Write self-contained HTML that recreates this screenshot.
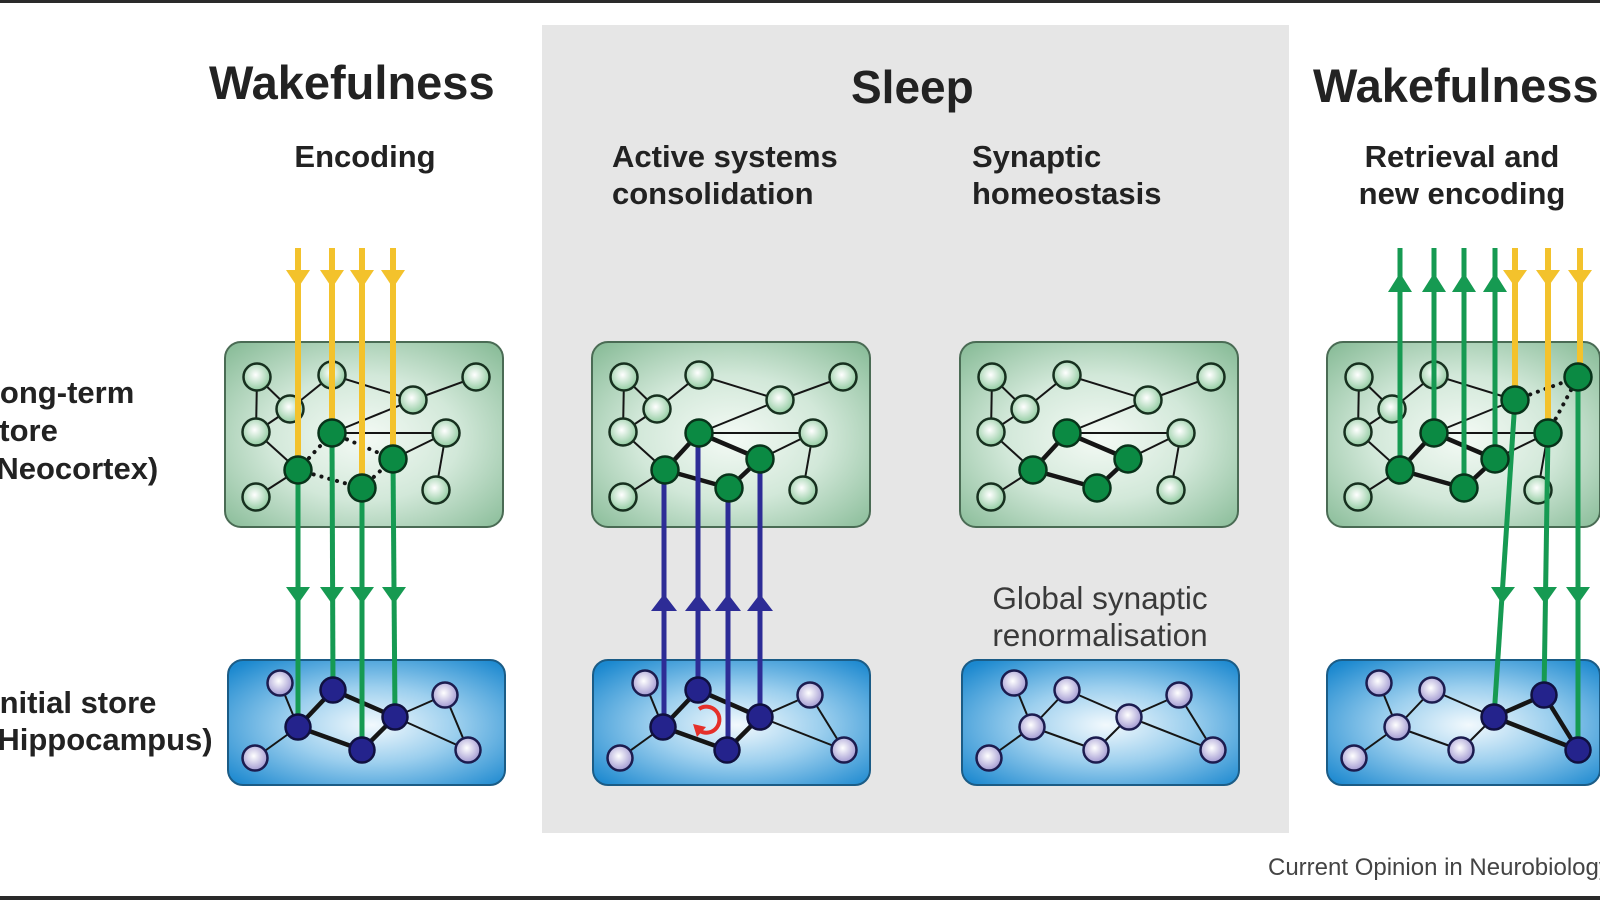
<!DOCTYPE html>
<html>
<head>
<meta charset="utf-8">
<style>
html,body{margin:0;padding:0;background:#fff;}
svg{display:block;}
text{font-family:"Liberation Sans",Arial,sans-serif;}
.b{font-weight:bold;fill:#222;}
.r{fill:#3a3a3a;}
</style>
</head>
<body>
<svg width="1600" height="900" viewBox="0 0 1600 900" xmlns="http://www.w3.org/2000/svg">
<defs>
  <radialGradient id="gb" cx="50%" cy="52%" r="68%">
    <stop offset="0" stop-color="#f4faf5"/>
    <stop offset="0.5" stop-color="#d2e8d9"/>
    <stop offset="1" stop-color="#8cbe9b"/>
  </radialGradient>
  <radialGradient id="bb" cx="52%" cy="52%" r="68%">
    <stop offset="0" stop-color="#f2f9fd"/>
    <stop offset="0.45" stop-color="#9ccfee"/>
    <stop offset="1" stop-color="#1b88cf"/>
  </radialGradient>
  <radialGradient id="ln" cx="45%" cy="42%" r="58%">
    <stop offset="0" stop-color="#ffffff"/>
    <stop offset="1" stop-color="#93cca2"/>
  </radialGradient>
  <radialGradient id="lb" cx="45%" cy="42%" r="58%">
    <stop offset="0" stop-color="#ffffff"/>
    <stop offset="1" stop-color="#a29ad2"/>
  </radialGradient>
</defs>

<rect x="0" y="0" width="1600" height="900" fill="#ffffff"/>
<rect x="542" y="25" width="747" height="808" fill="#e6e6e6"/>
<rect x="0" y="0" width="1600" height="3" fill="#2a2a2a"/>
<rect x="0" y="896" width="1600" height="4" fill="#2a2a2a"/>

<!-- Titles -->
<text class="b" x="209" y="99" font-size="47">Wakefulness</text>
<text class="b" x="851" y="103" font-size="46">Sleep</text>
<text class="b" x="1313" y="102" font-size="47">Wakefulness</text>

<text class="b" x="365" y="167" font-size="31" text-anchor="middle">Encoding</text>
<text class="b" x="612" y="167" font-size="31">Active systems</text>
<text class="b" x="612" y="204" font-size="31">consolidation</text>
<text class="b" x="972" y="167" font-size="31">Synaptic</text>
<text class="b" x="972" y="204" font-size="31">homeostasis</text>
<text class="b" x="1462" y="167" font-size="31" text-anchor="middle">Retrieval and</text>
<text class="b" x="1462" y="204" font-size="31" text-anchor="middle">new encoding</text>

<text class="b" x="-19" y="403" font-size="31">Long-term</text>
<text class="b" x="-18" y="441" font-size="31">store</text>
<text class="b" x="-14" y="479" font-size="31">(Neocortex)</text>
<text class="b" x="-9" y="713" font-size="31">Initial store</text>
<text class="b" x="-13" y="750" font-size="31">(Hippocampus)</text>

<text class="r" x="1100" y="609" font-size="31.5" text-anchor="middle">Global synaptic</text>
<text class="r" x="1100" y="646" font-size="31.5" text-anchor="middle">renormalisation</text>

<text x="1268" y="875" font-size="24" fill="#444">Current Opinion in Neurobiology</text>

<!-- ============ BOX 1 ============ -->
<g transform="translate(225,342)">
  <rect width="278" height="185" rx="16" fill="url(#gb)" stroke="#4a6b54" stroke-width="2"/>
  <g stroke="#151515" stroke-width="2">
    <line x1="32" y1="35" x2="31" y2="90"/>
    <line x1="32" y1="35" x2="65" y2="67"/>
    <line x1="65" y1="67" x2="31" y2="90"/>
    <line x1="65" y1="67" x2="107" y2="33"/>
    <line x1="107" y1="33" x2="188" y2="58"/>
    <line x1="188" y1="58" x2="251" y2="35"/>
    <line x1="188" y1="58" x2="107" y2="91"/>
    <line x1="107" y1="91" x2="221" y2="91"/>
    <line x1="31" y1="90" x2="73" y2="128"/>
    <line x1="73" y1="128" x2="31" y2="155"/>
    <line x1="168" y1="117" x2="221" y2="91"/>
    <line x1="221" y1="91" x2="211" y2="148"/>
  </g>
  <g stroke="#151515" stroke-width="4" stroke-dasharray="0.1 8" stroke-linecap="round">
    <line x1="73" y1="128" x2="107" y2="91"/>
    <line x1="73" y1="128" x2="137" y2="146"/>
    <line x1="137" y1="146" x2="168" y2="117"/>
    <line x1="107" y1="91" x2="168" y2="117"/>
  </g>
  <g fill="url(#ln)" stroke="#17301f" stroke-width="2.5">
    <circle cx="32" cy="35" r="13.5"/><circle cx="107" cy="33" r="13.5"/><circle cx="251" cy="35" r="13.5"/>
    <circle cx="65" cy="67" r="13.5"/><circle cx="188" cy="58" r="13.5"/><circle cx="31" cy="90" r="13.5"/>
    <circle cx="221" cy="91" r="13.5"/><circle cx="31" cy="155" r="13.5"/><circle cx="211" cy="148" r="13.5"/>
  </g>
</g>
<g transform="translate(228,660)">
  <rect width="277" height="125" rx="15" fill="url(#bb)" stroke="#1b5c86" stroke-width="2"/>
  <g stroke="#151515" stroke-width="2">
    <line x1="52" y1="23" x2="70" y2="67"/>
    <line x1="70" y1="67" x2="27" y2="98"/>
    <line x1="167" y1="57" x2="217" y2="35"/>
    <line x1="167" y1="57" x2="240" y2="90"/>
    <line x1="217" y1="35" x2="240" y2="90"/>
  </g>
  <g stroke="#151515" stroke-width="4.5">
    <line x1="70" y1="67" x2="105" y2="30"/>
    <line x1="105" y1="30" x2="167" y2="57"/>
    <line x1="70" y1="67" x2="134" y2="90"/>
    <line x1="134" y1="90" x2="167" y2="57"/>
  </g>
  <g fill="url(#lb)" stroke="#1c1c4f" stroke-width="2.5">
    <circle cx="52" cy="23" r="12.5"/><circle cx="217" cy="35" r="12.5"/>
    <circle cx="27" cy="98" r="12.5"/><circle cx="240" cy="90" r="12.5"/>
  </g>
</g>
<!-- box1 arrows -->
<g stroke="#f3c22c" stroke-width="6">
  <line x1="298" y1="248" x2="298" y2="470"/>
  <line x1="332" y1="248" x2="332" y2="433"/>
  <line x1="362" y1="248" x2="362" y2="488"/>
  <line x1="393" y1="248" x2="393" y2="459"/>
</g>
<g fill="#f3c22c">
  <polygon points="286,270 310,270 298,288"/>
  <polygon points="320,270 344,270 332,288"/>
  <polygon points="350,270 374,270 362,288"/>
  <polygon points="381,270 405,270 393,288"/>
</g>
<g stroke="#169a52" stroke-width="5">
  <line x1="298" y1="470" x2="298" y2="727"/>
  <line x1="332" y1="433" x2="333" y2="690"/>
  <line x1="362" y1="488" x2="362" y2="750"/>
  <line x1="393" y1="459" x2="395" y2="717"/>
</g>
<g fill="#169a52">
  <polygon points="286,587 310,587 298,604"/>
  <polygon points="320,587 344,587 332,604"/>
  <polygon points="350,587 374,587 362,604"/>
  <polygon points="382,587 406,587 394,604"/>
</g>
<g fill="#0b8a43" stroke="#08331a" stroke-width="2.5">
  <circle cx="332" cy="433" r="13.5"/><circle cx="298" cy="470" r="13.5"/>
  <circle cx="393" cy="459" r="13.5"/><circle cx="362" cy="488" r="13.5"/>
</g>
<g fill="#24238c" stroke="#10103f" stroke-width="2.5">
  <circle cx="333" cy="690" r="12.5"/><circle cx="298" cy="727" r="12.5"/>
  <circle cx="395" cy="717" r="12.5"/><circle cx="362" cy="750" r="12.5"/>
</g>

<!-- ============ BOX 2 ============ -->
<g transform="translate(592,342)">
  <rect width="278" height="185" rx="16" fill="url(#gb)" stroke="#4a6b54" stroke-width="2"/>
  <g stroke="#151515" stroke-width="2">
    <line x1="32" y1="35" x2="31" y2="90"/>
    <line x1="32" y1="35" x2="65" y2="67"/>
    <line x1="65" y1="67" x2="31" y2="90"/>
    <line x1="65" y1="67" x2="107" y2="33"/>
    <line x1="107" y1="33" x2="188" y2="58"/>
    <line x1="188" y1="58" x2="251" y2="35"/>
    <line x1="188" y1="58" x2="107" y2="91"/>
    <line x1="107" y1="91" x2="221" y2="91"/>
    <line x1="31" y1="90" x2="73" y2="128"/>
    <line x1="73" y1="128" x2="31" y2="155"/>
    <line x1="168" y1="117" x2="221" y2="91"/>
    <line x1="221" y1="91" x2="211" y2="148"/>
  </g>
  <g stroke="#151515" stroke-width="4.5">
    <line x1="73" y1="128" x2="107" y2="91"/>
    <line x1="73" y1="128" x2="137" y2="146"/>
    <line x1="137" y1="146" x2="168" y2="117"/>
    <line x1="107" y1="91" x2="168" y2="117"/>
  </g>
  <g fill="url(#ln)" stroke="#17301f" stroke-width="2.5">
    <circle cx="32" cy="35" r="13.5"/><circle cx="107" cy="33" r="13.5"/><circle cx="251" cy="35" r="13.5"/>
    <circle cx="65" cy="67" r="13.5"/><circle cx="188" cy="58" r="13.5"/><circle cx="31" cy="90" r="13.5"/>
    <circle cx="221" cy="91" r="13.5"/><circle cx="31" cy="155" r="13.5"/><circle cx="211" cy="148" r="13.5"/>
  </g>
</g>
<g transform="translate(593,660)">
  <rect width="277" height="125" rx="15" fill="url(#bb)" stroke="#1b5c86" stroke-width="2"/>
  <g stroke="#151515" stroke-width="2">
    <line x1="52" y1="23" x2="70" y2="67"/>
    <line x1="70" y1="67" x2="27" y2="98"/>
    <line x1="167" y1="57" x2="217" y2="35"/>
    <line x1="167" y1="57" x2="251" y2="90"/>
    <line x1="217" y1="35" x2="251" y2="90"/>
  </g>
  <g stroke="#151515" stroke-width="4.5">
    <line x1="70" y1="67" x2="105" y2="30"/>
    <line x1="105" y1="30" x2="167" y2="57"/>
    <line x1="70" y1="67" x2="134" y2="90"/>
    <line x1="134" y1="90" x2="167" y2="57"/>
  </g>
  <g fill="url(#lb)" stroke="#1c1c4f" stroke-width="2.5">
    <circle cx="52" cy="23" r="12.5"/><circle cx="217" cy="35" r="12.5"/>
    <circle cx="27" cy="98" r="12.5"/><circle cx="251" cy="90" r="12.5"/>
  </g>
</g>
<g stroke="#2d2c96" stroke-width="5">
  <line x1="664" y1="727" x2="664" y2="470"/>
  <line x1="698" y1="690" x2="698" y2="433"/>
  <line x1="728" y1="750" x2="728" y2="488"/>
  <line x1="760" y1="717" x2="760" y2="459"/>
</g>
<g fill="#2d2c96">
  <polygon points="651,611 677,611 664,594"/>
  <polygon points="685,611 711,611 698,594"/>
  <polygon points="715,611 741,611 728,594"/>
  <polygon points="747,611 773,611 760,594"/>
</g>
<!-- red circular arrow -->
<path d="M 699 709 A 13 13 0 1 1 700 731" fill="none" stroke="#e5302a" stroke-width="4"/>
<polygon points="693,724 706,727 697,737" fill="#e5302a"/>
<g fill="#0b8a43" stroke="#08331a" stroke-width="2.5">
  <circle cx="699" cy="433" r="13.5"/><circle cx="665" cy="470" r="13.5"/>
  <circle cx="760" cy="459" r="13.5"/><circle cx="729" cy="488" r="13.5"/>
</g>
<g fill="#24238c" stroke="#10103f" stroke-width="2.5">
  <circle cx="698" cy="690" r="12.5"/><circle cx="663" cy="727" r="12.5"/>
  <circle cx="760" cy="717" r="12.5"/><circle cx="727" cy="750" r="12.5"/>
</g>

<!-- ============ BOX 3 ============ -->
<g transform="translate(960,342)">
  <rect width="278" height="185" rx="16" fill="url(#gb)" stroke="#4a6b54" stroke-width="2"/>
  <g stroke="#151515" stroke-width="2">
    <line x1="32" y1="35" x2="31" y2="90"/>
    <line x1="32" y1="35" x2="65" y2="67"/>
    <line x1="65" y1="67" x2="31" y2="90"/>
    <line x1="65" y1="67" x2="107" y2="33"/>
    <line x1="107" y1="33" x2="188" y2="58"/>
    <line x1="188" y1="58" x2="251" y2="35"/>
    <line x1="188" y1="58" x2="107" y2="91"/>
    <line x1="107" y1="91" x2="221" y2="91"/>
    <line x1="31" y1="90" x2="73" y2="128"/>
    <line x1="73" y1="128" x2="31" y2="155"/>
    <line x1="168" y1="117" x2="221" y2="91"/>
    <line x1="221" y1="91" x2="211" y2="148"/>
  </g>
  <g stroke="#151515" stroke-width="4.5">
    <line x1="73" y1="128" x2="107" y2="91"/>
    <line x1="73" y1="128" x2="137" y2="146"/>
    <line x1="137" y1="146" x2="168" y2="117"/>
    <line x1="107" y1="91" x2="168" y2="117"/>
  </g>
  <g fill="url(#ln)" stroke="#17301f" stroke-width="2.5">
    <circle cx="32" cy="35" r="13.5"/><circle cx="107" cy="33" r="13.5"/><circle cx="251" cy="35" r="13.5"/>
    <circle cx="65" cy="67" r="13.5"/><circle cx="188" cy="58" r="13.5"/><circle cx="31" cy="90" r="13.5"/>
    <circle cx="221" cy="91" r="13.5"/><circle cx="31" cy="155" r="13.5"/><circle cx="211" cy="148" r="13.5"/>
  </g>
  <g fill="#0b8a43" stroke="#08331a" stroke-width="2.5">
    <circle cx="107" cy="91" r="13.5"/><circle cx="73" cy="128" r="13.5"/>
    <circle cx="168" cy="117" r="13.5"/><circle cx="137" cy="146" r="13.5"/>
  </g>
</g>
<g transform="translate(962,660)">
  <rect width="277" height="125" rx="15" fill="url(#bb)" stroke="#1b5c86" stroke-width="2"/>
  <g stroke="#151515" stroke-width="2">
    <line x1="52" y1="23" x2="70" y2="67"/>
    <line x1="70" y1="67" x2="27" y2="98"/>
    <line x1="70" y1="67" x2="105" y2="30"/>
    <line x1="105" y1="30" x2="167" y2="57"/>
    <line x1="70" y1="67" x2="134" y2="90"/>
    <line x1="134" y1="90" x2="167" y2="57"/>
    <line x1="167" y1="57" x2="217" y2="35"/>
    <line x1="167" y1="57" x2="251" y2="90"/>
    <line x1="217" y1="35" x2="251" y2="90"/>
  </g>
  <g fill="url(#lb)" stroke="#1c1c4f" stroke-width="2.5">
    <circle cx="52" cy="23" r="12.5"/><circle cx="105" cy="30" r="12.5"/><circle cx="217" cy="35" r="12.5"/>
    <circle cx="70" cy="67" r="12.5"/><circle cx="167" cy="57" r="12.5"/><circle cx="134" cy="90" r="12.5"/>
    <circle cx="27" cy="98" r="12.5"/><circle cx="251" cy="90" r="12.5"/>
  </g>
</g>

<!-- ============ BOX 4 ============ -->
<g transform="translate(1327,342)">
  <rect width="273" height="185" rx="16" fill="url(#gb)" stroke="#4a6b54" stroke-width="2"/>
  <g stroke="#151515" stroke-width="2">
    <line x1="32" y1="35" x2="31" y2="90"/>
    <line x1="32" y1="35" x2="65" y2="67"/>
    <line x1="65" y1="67" x2="31" y2="90"/>
    <line x1="65" y1="67" x2="107" y2="33"/>
    <line x1="107" y1="33" x2="188" y2="58"/>
    <line x1="188" y1="58" x2="107" y2="91"/>
    <line x1="107" y1="91" x2="221" y2="91"/>
    <line x1="31" y1="90" x2="73" y2="128"/>
    <line x1="73" y1="128" x2="31" y2="155"/>
    <line x1="168" y1="117" x2="221" y2="91"/>
    <line x1="221" y1="91" x2="211" y2="148"/>
  </g>
  <g stroke="#151515" stroke-width="4" stroke-dasharray="0.1 8" stroke-linecap="round">
    <line x1="188" y1="58" x2="251" y2="35"/>
    <line x1="221" y1="91" x2="251" y2="35"/>
  </g>
  <g stroke="#151515" stroke-width="4.5">
    <line x1="73" y1="128" x2="107" y2="91"/>
    <line x1="73" y1="128" x2="137" y2="146"/>
    <line x1="137" y1="146" x2="168" y2="117"/>
    <line x1="107" y1="91" x2="168" y2="117"/>
  </g>
  <g fill="url(#ln)" stroke="#17301f" stroke-width="2.5">
    <circle cx="32" cy="35" r="13.5"/><circle cx="107" cy="33" r="13.5"/>
    <circle cx="65" cy="67" r="13.5"/><circle cx="31" cy="90" r="13.5"/>
    <circle cx="31" cy="155" r="13.5"/><circle cx="211" cy="148" r="13.5"/>
  </g>
</g>
<g transform="translate(1327,660)">
  <rect width="273" height="125" rx="15" fill="url(#bb)" stroke="#1b5c86" stroke-width="2"/>
  <g stroke="#151515" stroke-width="2">
    <line x1="52" y1="23" x2="70" y2="67"/>
    <line x1="70" y1="67" x2="27" y2="98"/>
    <line x1="70" y1="67" x2="105" y2="30"/>
    <line x1="105" y1="30" x2="167" y2="57"/>
    <line x1="70" y1="67" x2="134" y2="90"/>
    <line x1="134" y1="90" x2="167" y2="57"/>
  </g>
  <g stroke="#151515" stroke-width="4.5">
    <line x1="167" y1="57" x2="217" y2="35"/>
    <line x1="167" y1="57" x2="251" y2="90"/>
    <line x1="217" y1="35" x2="251" y2="90"/>
  </g>
  <g fill="url(#lb)" stroke="#1c1c4f" stroke-width="2.5">
    <circle cx="52" cy="23" r="12.5"/><circle cx="105" cy="30" r="12.5"/>
    <circle cx="70" cy="67" r="12.5"/><circle cx="134" cy="90" r="12.5"/>
    <circle cx="27" cy="98" r="12.5"/>
  </g>
</g>
<!-- box4 arrows -->
<g stroke="#169a52" stroke-width="5">
  <line x1="1400" y1="470" x2="1400" y2="248"/>
  <line x1="1434" y1="433" x2="1434" y2="248"/>
  <line x1="1464" y1="488" x2="1464" y2="248"/>
  <line x1="1495" y1="459" x2="1495" y2="248"/>
</g>
<g fill="#169a52">
  <polygon points="1388,292 1412,292 1400,273"/>
  <polygon points="1422,292 1446,292 1434,273"/>
  <polygon points="1452,292 1476,292 1464,273"/>
  <polygon points="1483,292 1507,292 1495,273"/>
</g>
<g stroke="#f3c22c" stroke-width="6">
  <line x1="1515" y1="248" x2="1515" y2="400"/>
  <line x1="1548" y1="248" x2="1548" y2="433"/>
  <line x1="1580" y1="248" x2="1580" y2="377"/>
</g>
<g fill="#f3c22c">
  <polygon points="1503,270 1527,270 1515,287"/>
  <polygon points="1536,270 1560,270 1548,287"/>
  <polygon points="1568,270 1592,270 1580,287"/>
</g>
<g stroke="#169a52" stroke-width="5">
  <line x1="1515" y1="400" x2="1494" y2="717"/>
  <line x1="1548" y1="433" x2="1544" y2="695"/>
  <line x1="1578" y1="377" x2="1578" y2="750"/>
</g>
<g fill="#169a52">
  <polygon points="1491,587 1515,587 1502,604"/>
  <polygon points="1533,587 1557,587 1545,604"/>
  <polygon points="1566,587 1590,587 1578,604"/>
</g>
<g fill="#0b8a43" stroke="#08331a" stroke-width="2.5">
  <circle cx="1578" cy="377" r="13.5"/><circle cx="1515" cy="400" r="13.5"/>
  <circle cx="1434" cy="433" r="13.5"/><circle cx="1548" cy="433" r="13.5"/>
  <circle cx="1400" cy="470" r="13.5"/><circle cx="1495" cy="459" r="13.5"/>
  <circle cx="1464" cy="488" r="13.5"/>
</g>
<g fill="#24238c" stroke="#10103f" stroke-width="2.5">
  <circle cx="1544" cy="695" r="12.5"/><circle cx="1494" cy="717" r="12.5"/>
  <circle cx="1578" cy="750" r="12.5"/>
</g>
</svg>
</body>
</html>
